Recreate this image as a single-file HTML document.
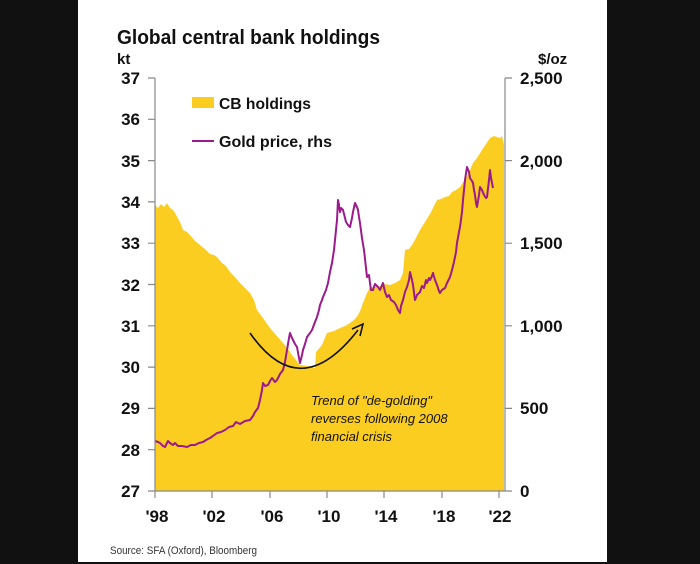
<!DOCTYPE html>
<html><head><style>
body{margin:0;background:#111;}
svg{display:block}
</style></head><body>
<svg width="700" height="564" xmlns="http://www.w3.org/2000/svg" font-family="Liberation Sans, sans-serif">
<rect x="0" y="0" width="700" height="564" fill="#111"/>
<rect x="78" y="0" width="529" height="562" fill="#fff"/>
<text x="117" y="44" font-size="20" font-weight="bold" fill="#111" textLength="263" lengthAdjust="spacingAndGlyphs">Global central bank holdings</text>
<text x="117" y="64" font-size="15" font-weight="bold" fill="#111">kt</text>
<text x="538" y="64" font-size="15" font-weight="bold" fill="#111">$/oz</text>
<!-- area -->
<polygon fill="#fccd21" points="155,491 155,205 158,208 161,204 164,207 167,203 170,208 173,210 175,213 180,222 183,230 187,232 190,235 195,241 200,245 205,249 210,254 214,255 217,257 222,263 226,266 230,272 235,277 240,283 245,288 250,293 254,300 257,310 263,318 270,328 276,335 283,343 288,349 292,355 296,360 300,365 308,366 315,368 316,352 322,345 327,333 334,331 340,328 345,326 350,323 355,319 358,315 361,309 363,303 367,293 370,287 375,287 380,286 385,284 390,285 395,283 400,280 403,273 405,250 409,249 412,245 416,238 420,230 425,222 430,214 434,206 437,200 441,199 445,197 449,196 452,192 456,190 460,187 464,181 467,176 470,170 473,163 477,158 482,150 486,144 490,138 494,136 500,138 502,136 504,145 504,491"/>
<!-- gold line -->
<polyline fill="none" stroke="#9b1b8c" stroke-width="2" stroke-linejoin="round" points="155,441 158,442 160,443 163,446 165,447 168,441 170,443 173,445 175,443 178,446 182,446 187,447 191,445 195,445 199,443 203,442 206,440 210,438 213,436 217,433 221,432 225,430 229,427 233,426 236,422 240,424 245,421 250,420 253,416 255,412 258,408 260,400 262,390 263,383 265,386 268,385 270,381 272,378 275,382 277,380 280,374 283,370 285,362 287,350 289,338 290,333 292,338 293,340 295,344 297,347 299,358 300,363 302,355 303,350 305,344 307,337 310,333 312,330 315,322 317,317 319,310 320,305 322,300 323,297 326,290 328,283 330,272 332,263 334,250 335,240 337,220 338,200 339,205 340,212 341,208 343,210 345,218 346,222 348,225 350,227 352,218 353,212 355,203 357,207 358,210 359,217 360,223 362,238 364,250 366,268 367,277 369,275 370,283 371,290 373,290 375,284 378,287 380,290 383,283 385,292 387,297 389,295 391,300 394,302 396,305 398,310 400,313 401,306 403,300 405,292 407,287 409,280 410,272 412,280 413,285 415,300 417,295 420,292 422,286 424,288 426,280 427,283 429,278 430,280 432,276 433,273 435,280 437,285 439,291 440,293 442,290 445,288 447,283 450,277 452,270 454,262 456,252 457,243 459,232 460,227 462,212 463,200 465,180 467,167 469,172 470,178 472,181 473,183 474,190 475,195 476,203 477,207 479,195 480,187 482,190 484,195 486,198 487,197 489,180 490,170 491,178 493,188"/>
<!-- arrow -->
<path d="M250,333 Q300,405 358,330" fill="none" stroke="#111" stroke-width="1.6"/>
<path d="M352,329 L363,324 L360,336" fill="none" stroke="#111" stroke-width="1.6"/>
<g font-size="13" font-style="italic" fill="#111">
<text x="311" y="405">Trend of "de-golding"</text>
<text x="311" y="423">reverses following 2008</text>
<text x="311" y="441">financial crisis</text>
</g>
<!-- axes -->
<g stroke="#888" stroke-width="1.2" fill="none">
<line x1="155" y1="78" x2="155" y2="491"/>
<line x1="505" y1="78" x2="505" y2="491"/>
<line x1="148" y1="491" x2="512" y2="491"/>
<path d="M148,78h7M148,119.3h7M148,160.6h7M148,201.9h7M148,243.2h7M148,284.5h7M148,325.8h7M148,367.1h7M148,408.4h7M148,449.7h7"/>
<path d="M505,78h7M505,160.6h7M505,243.2h7M505,325.8h7M505,408.4h7"/>
<path d="M155,491v7M212,491v7M270,491v7M327,491v7M384,491v7M442,491v7M499,491v7"/>
</g>
<g font-size="17" font-weight="bold" fill="#111" text-anchor="end">
<text x="140" y="84">37</text><text x="140" y="125">36</text><text x="140" y="167">35</text><text x="140" y="208">34</text><text x="140" y="249">33</text><text x="140" y="291">32</text><text x="140" y="332">31</text><text x="140" y="373">30</text><text x="140" y="414">29</text><text x="140" y="456">28</text><text x="140" y="497">27</text>
</g>
<g font-size="17" font-weight="bold" fill="#111">
<text x="520" y="84">2,500</text><text x="520" y="167">2,000</text><text x="520" y="249">1,500</text><text x="520" y="332">1,000</text><text x="520" y="414">500</text><text x="520" y="497">0</text>
</g>
<g font-size="17" font-weight="bold" fill="#111" text-anchor="middle">
<text x="157" y="522">'98</text><text x="214" y="522">'02</text><text x="272" y="522">'06</text><text x="329" y="522">'10</text><text x="386" y="522">'14</text><text x="444" y="522">'18</text><text x="500" y="522">'22</text>
</g>
<rect x="192" y="97" width="22" height="11" fill="#fccd21"/>
<text x="219" y="109" font-size="16" font-weight="bold" fill="#111" textLength="92" lengthAdjust="spacingAndGlyphs">CB holdings</text>
<line x1="192" y1="141" x2="214" y2="141" stroke="#9b1b8c" stroke-width="2"/>
<text x="219" y="147" font-size="16" font-weight="bold" fill="#111" textLength="113" lengthAdjust="spacingAndGlyphs">Gold price, rhs</text>
<text x="110" y="554" font-size="11" fill="#333" textLength="147" lengthAdjust="spacingAndGlyphs">Source: SFA (Oxford), Bloomberg</text>
</svg>
</body></html>
